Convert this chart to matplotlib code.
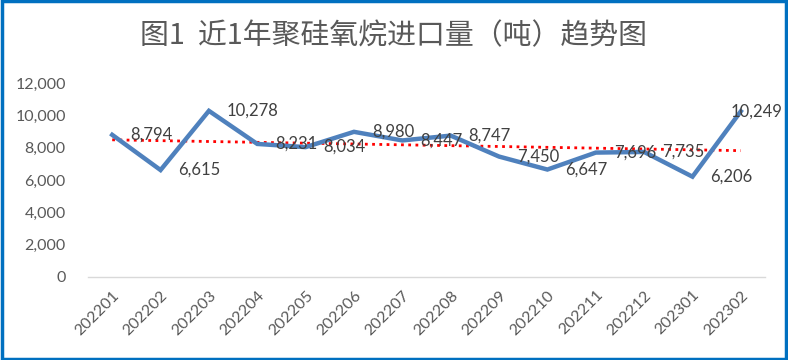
import matplotlib
matplotlib.use("Agg")
import matplotlib.pyplot as plt
import numpy as np
from matplotlib.patches import Rectangle
from matplotlib.ticker import FuncFormatter

months = ["202201", "202202", "202203", "202204", "202205", "202206", "202207",
          "202208", "202209", "202210", "202211", "202212", "202301", "202302"]
imports = [8794, 6615, 10278, 8231, 8034, 8980, 8447,
           8747, 7450, 6647, 7696, 7735, 6206, 10249]
y_ticks = [0, 2000, 4000, 6000, 8000, 10000, 12000]

LINE_COLOR = "#4F81BD"
TREND_COLOR = "#FF0000"
TEXT_COLOR = "#595959"
LABEL_COLOR = "#404040"
BORDER_COLOR = "#0070C0"

plt.rcParams["font.family"] = ["Lato", "Noto Sans CJK SC", "DejaVu Sans"]

fig = plt.figure(figsize=(7.88, 3.6), dpi=100)
ax = fig.add_axes([0.1117, 0.2306, 0.8591, 0.5388])

x = np.arange(len(months))
ax.plot(x, imports, color=LINE_COLOR, lw=3.2, solid_joinstyle="miter", zorder=3)

# linear trendline
k, b = np.polyfit(x, imports, 1)
ax.plot(x, k * x + b, color=TREND_COLOR, lw=2.0, ls=(0, (1, 1.6)), zorder=2)

for i, (xi, v) in enumerate(zip(x, imports)):
    # last label is pulled back inside the chart, like Excel does
    dx = -7 if i == len(imports) - 1 else 13
    ax.annotate(f"{v:,}", (xi, v), xytext=(dx, 0), textcoords="offset points",
                ha="left", va="center", fontsize=12, color=LABEL_COLOR, zorder=4)

ax.set_xlim(-0.5, len(months) - 0.5)
ax.set_ylim(0, 12000)
ax.set_yticks(y_ticks)
ax.yaxis.set_major_formatter(FuncFormatter(lambda v, _: f"{int(v):,}"))
ax.set_xticks(x)
ax.set_xticklabels(months, rotation=45, ha="right", rotation_mode="anchor")
ax.tick_params(axis="both", length=0, labelsize=11.5, colors=TEXT_COLOR)
ax.tick_params(axis="y", pad=16)
ax.tick_params(axis="x", pad=8)

for s in ["top", "right", "left"]:
    ax.spines[s].set_visible(False)
ax.spines["bottom"].set_color("#D9D9D9")
ax.spines["bottom"].set_linewidth(1.0)

fig.text(0.5, 0.9, "图1  近1年聚硅氧烷进口量（吨）趋势图", ha="center", va="center",
         fontsize=20.8, color=TEXT_COLOR, family=["Noto Sans CJK SC", "DejaVu Sans"])

fig.patches.append(Rectangle((0.002, 0.003), 0.996, 0.994, transform=fig.transFigure,
                             fill=False, edgecolor=BORDER_COLOR, lw=2.5))

fig.savefig("out.png", dpi=100, facecolor="white")
